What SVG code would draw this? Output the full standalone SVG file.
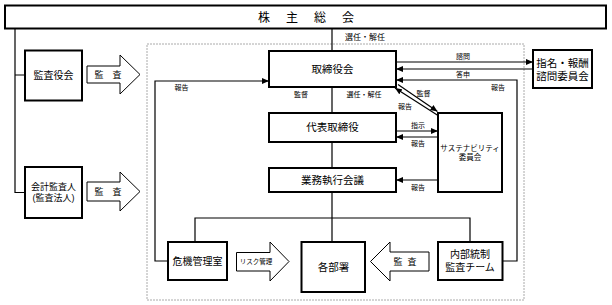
<svg xmlns="http://www.w3.org/2000/svg" width="612" height="305" viewBox="0 0 612 305">
<style>
text{font-family:"Liberation Sans","Noto Sans CJK JP",sans-serif;fill:#000;text-anchor:middle}
.box{fill:#fff;stroke:#000;stroke-width:2}
.blk{fill:#fff;stroke:#000;stroke-width:1}
.ln{fill:none;stroke:#000;stroke-width:1.2}
.n{font-size:10.5px}
.s{font-size:7px}
</style>
<defs>
<marker id="ah" markerWidth="7" markerHeight="6" refX="7" refY="3" orient="auto" markerUnits="userSpaceOnUse">
<path d="M0,0 L7,3 L0,6 z" fill="#000"/>
</marker>
</defs>
<rect x="147" y="44" width="377" height="256" fill="none" stroke="#aaa" stroke-width="1" stroke-dasharray="2,1"/>
<g id="connectors">
<path class="ln" d="M332,28.5 V51"/>
<path class="ln" d="M15,28.5 V192.5 H25 M15,75 H25"/>
<path class="ln" d="M332,87 V113 M332,142 V168 M332,192 V242"/>
<path class="ln" d="M195,242 V218 H470 V242"/>
<path class="ln" d="M168,261 H155 V81 H269" marker-end="url(#ah)"/>
<path class="ln" d="M502.5,261 H517 V80 H396" marker-end="url(#ah)"/>
<path class="ln" d="M396,62 H533" marker-end="url(#ah)"/>
<path class="ln" d="M533,69 H396" marker-end="url(#ah)"/>
<path class="ln" d="M398,84.5 L437.5,111.5" marker-end="url(#ah)"/>
<path class="ln" d="M438,115.5 L395,88" marker-end="url(#ah)"/>
<path class="ln" d="M396,131 H438" marker-end="url(#ah)"/>
<path class="ln" d="M438,137 H396" marker-end="url(#ah)"/>
<path class="ln" d="M438,180 H396" marker-end="url(#ah)"/>
<text x="365" y="40" style="font-size:8px">選任・解任</text>
<text x="463" y="58.5" class="s">諮問</text>
<text x="463" y="77" class="s">答申</text>
<text x="498" y="89.5" class="s">報告</text>
<text x="181.5" y="89.5" class="s">報告</text>
<text x="301" y="96.5" class="s">監督</text>
<text x="364" y="96.5" class="s">選任・解任</text>
<text x="423.5" y="95.5" class="s">監督</text>
<text x="405" y="108.5" class="s">報告</text>
<text x="418" y="127.5" class="s">指示</text>
<text x="418" y="145.5" class="s">報告</text>
<text x="418" y="189.5" class="s">報告</text>
</g>
<g id="shareholders">
<rect class="box" x="5" y="5.5" width="601" height="23"/>
<text x="307" y="21.5" style="font-size:12px;letter-spacing:2px">株　主　総　会</text>
</g>
<g id="audit-board">
<rect class="box" x="25" y="50.5" width="57" height="50"/>
<text x="53.5" y="79" style="font-size:10px">監査役会</text>
</g>
<g id="audit-arrow-1">
<polygon class="blk" points="87,66 120,66 120,55 140,74.5 120,94 120,83 87,83"/>
<text x="108" y="78" style="font-size:9px">監　査</text>
</g>
<g id="accounting-auditor">
<rect class="box" x="25" y="167" width="57" height="51"/>
<text x="53.5" y="190" style="font-size:9px">会計監査人</text>
<text x="53.5" y="200.5" style="font-size:9px">(監査法人)</text>
</g>
<g id="audit-arrow-2">
<polygon class="blk" points="87,182 120,182 120,172 140,191.5 120,211 120,201 87,201"/>
<text x="108" y="195" style="font-size:9px">監　査</text>
</g>
<g id="board">
<rect class="box" x="269" y="51" width="127" height="36"/>
<text x="332.5" y="73" class="n">取締役会</text>
</g>
<g id="nomination-committee">
<rect class="box" x="533" y="50" width="59" height="38"/>
<text x="562.5" y="66.5" class="n">指名・報酬</text>
<text x="562.5" y="79.5" class="n">諮問委員会</text>
</g>
<g id="representative-director">
<rect class="box" x="269" y="113" width="127" height="29"/>
<text x="332.5" y="131" class="n">代表取締役</text>
</g>
<g id="executive-meeting">
<rect class="box" x="269" y="168" width="127" height="24"/>
<text x="332.5" y="184" class="n">業務執行会議</text>
</g>
<g id="sustainability-committee">
<rect class="box" x="438" y="113" width="64" height="79"/>
<text x="470" y="151" style="font-size:7.5px">サステナビリティ</text>
<text x="470" y="160" style="font-size:7.5px">委員会</text>
</g>
<g id="crisis-office">
<rect class="box" x="168" y="242" width="59" height="38"/>
<text x="197.5" y="264.5" style="font-size:10px">危機管理室</text>
</g>
<g id="risk-arrow">
<polygon class="blk" points="236.5,252.5 270,252.5 270,242 289,261.5 270,281 270,271 236.5,271"/>
<text x="256" y="264" style="font-size:6.5px">リスク管理</text>
</g>
<g id="departments">
<rect class="box" x="301.5" y="242" width="63.5" height="50"/>
<text x="333.5" y="271" class="n">各部署</text>
</g>
<g id="audit-arrow-3">
<polygon class="blk" points="370.5,261.5 390,242 390,252 429,252 429,271 390,271 390,281"/>
<text x="404" y="265" style="font-size:9px;letter-spacing:-2px">監　査</text>
</g>
<g id="internal-audit">
<rect class="box" x="438" y="242" width="64.5" height="38"/>
<text x="470" y="258" style="font-size:10px">内部統制</text>
<text x="470" y="270.5" style="font-size:10px">監査チーム</text>
</g>
</svg>
